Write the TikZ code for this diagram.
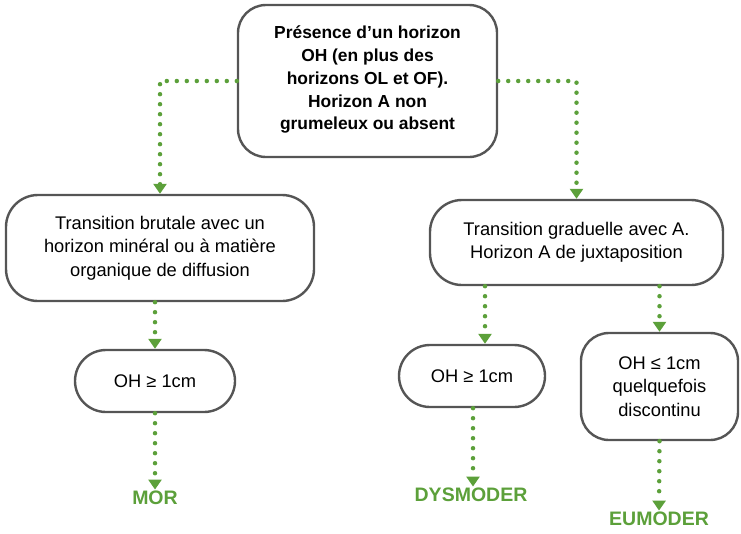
\documentclass[tikz,border=0pt]{standalone}
\usepackage{fontspec}
\setmainfont{Liberation Sans}
\usetikzlibrary{arrows.meta,calc}
\definecolor{grn}{RGB}{92,160,58}
\definecolor{bord}{RGB}{85,85,85}
\begin{document}
\begin{tikzpicture}[x=1pt,y=-1pt,
  box/.style={draw=bord,line width=2.4pt,align=center,inner sep=0pt,font=\fontsize{18.3}{23.5}\selectfont},
  conn/.style={draw=grn,line width=4.5pt,line cap=round,dash pattern=on 0pt off 10pt,
     -{Triangle[width=13pt,length=10pt,line cap=butt]}, shorten >=0pt},
  res/.style={text=grn,font=\fontsize{19.5}{22}\selectfont\bfseries}]
\useasboundingbox (0,0) rectangle (741,533);
\node[box,rounded corners=28pt,minimum width=259pt,minimum height=152pt,text depth=6pt,font=\fontsize{17.4}{22.7}\selectfont\bfseries] (top) at (367.5,81)
  {Présence d’un horizon\\OH (en plus des\\horizons OL et OF).\\Horizon A non\\grumeleux ou absent};
\node[box,rounded corners=32pt,minimum width=308pt,minimum height=106pt] (L1) at (160,248)
  {Transition brutale avec un\\horizon minéral ou à matière\\organique de diffusion};
\node[box,rounded corners=32pt,minimum width=293pt,minimum height=85pt] (R1) at (576.5,242.5)
  {Transition graduelle avec A.\\Horizon A de juxtaposition};
\node[box,rounded corners=31pt,minimum width=160pt,minimum height=62pt] (L2) at (155,381)
  {OH ≥ 1cm};
\node[box,rounded corners=31pt,minimum width=146pt,minimum height=62pt] (D) at (472,376)
  {OH ≥ 1cm};
\node[box,rounded corners=28pt,minimum width=157pt,minimum height=107pt] (E) at (659.5,386.5)
  {OH ≤ 1cm\\quelquefois\\discontinu};
\node[res] (mor) at (155,498) {MOR};
\node[res] (dys) at (471,495) {DYSMODER};
\node[res] (eu) at (659,519) {EUMODER};
\coordinate (xa) at (485,0);
\draw[conn] (top.west) -| (L1.north);
\draw[conn] (top.east) -| (R1.north);
\draw[conn] (L1.south -| L2.north) -- (L2.north);
\draw[conn] (L2.south) -- ($(mor.north)+(0,2)$);
\draw[conn] (R1.south -| xa) -- (D.north -| xa);
\draw[conn] ($(D.south)+(1,0)$) -- ($(dys.north)+(2,2)$);
\draw[conn] (R1.south -| E.north) -- (E.north);
\draw[conn] (E.south) -- ($(eu.north)+(0,2)$);
\end{tikzpicture}
\end{document}
